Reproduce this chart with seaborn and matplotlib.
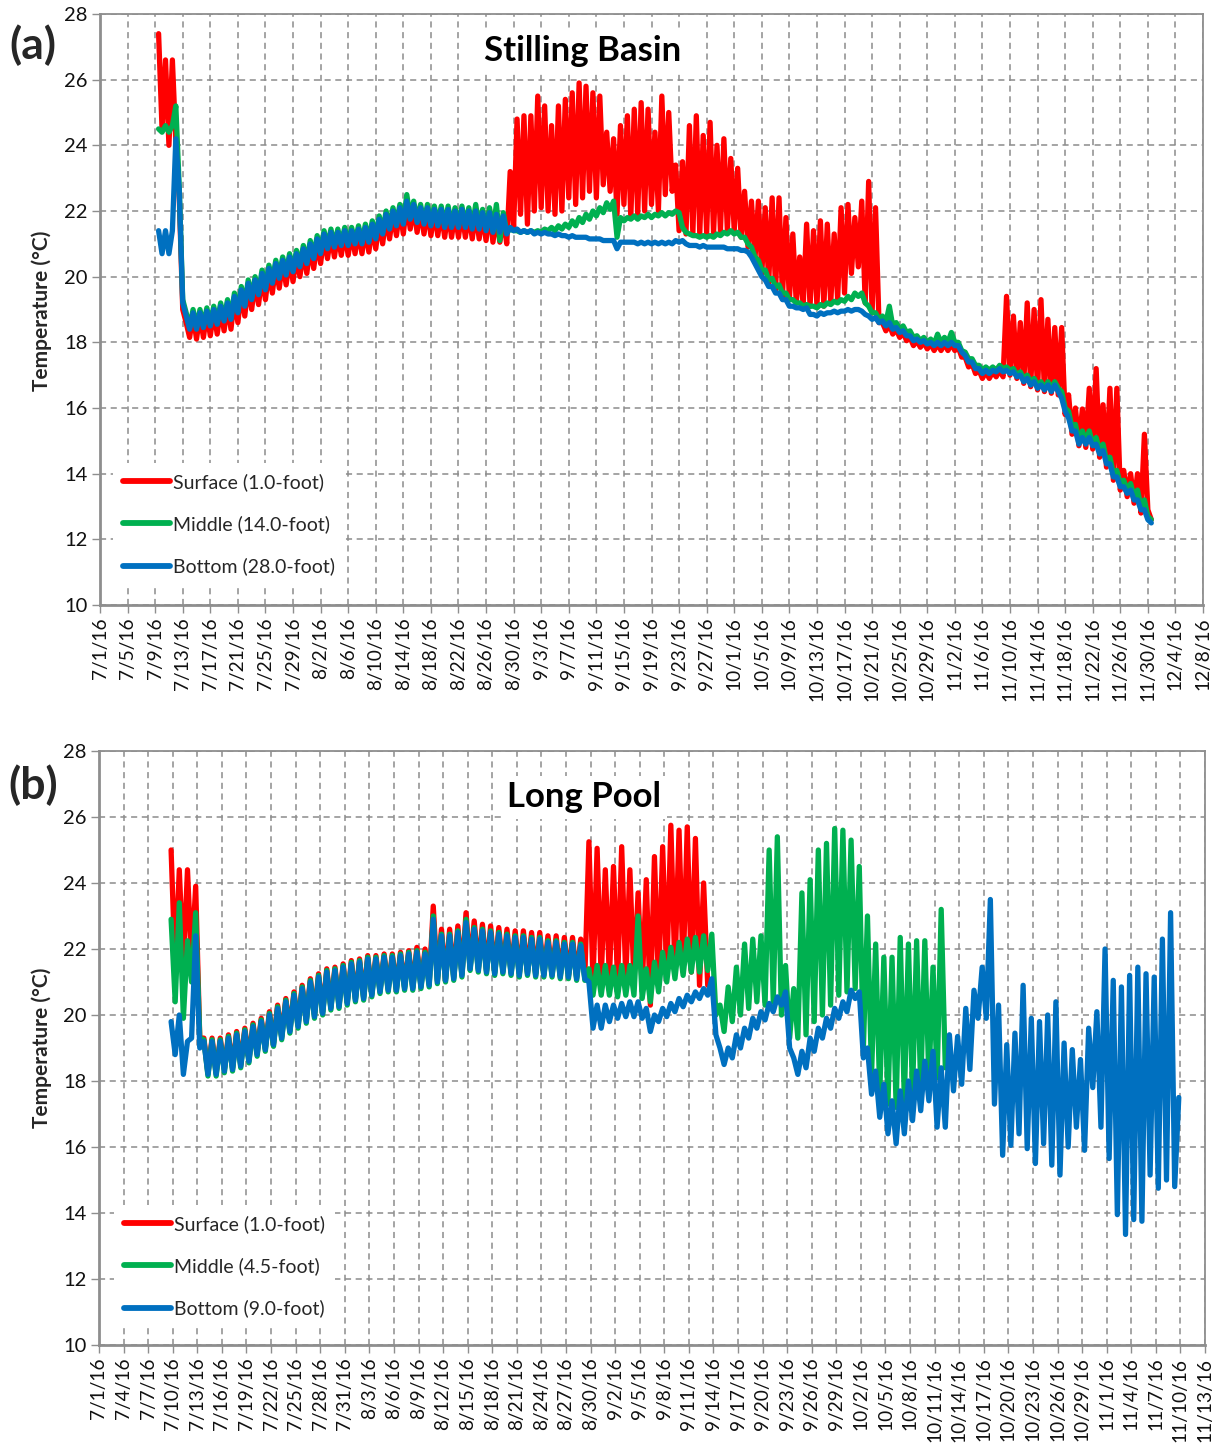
import datetime as dt
import numpy as np
import pandas as pd
import matplotlib
matplotlib.use("Agg")
import matplotlib.pyplot as plt
import seaborn as sns

# ---------------- DATA ----------------
# Values are half-day samples (alternating afternoon peak / morning trough),
# time measured in days after 7/1/16.
A_T0 = 8.5
a_surface = [
    27.4, 24.5, 26.6, 24.0, 26.6, 24.1, 22.4, 19.0, 18.6, 18.15,
    18.85, 18.1, 18.85, 18.15, 18.9, 18.2, 18.95, 18.25, 19.05, 18.35,
    19.15, 18.4, 19.35, 18.6, 19.55, 18.8, 19.75, 19.0, 19.85, 19.15,
    20.05, 19.3, 20.2, 19.5, 20.35, 19.65, 20.45, 19.75, 20.55, 19.85,
    20.65, 20.0, 20.8, 20.1, 20.95, 20.25, 21.1, 20.4, 21.25, 20.55,
    21.3, 20.6, 21.3, 20.65, 21.35, 20.65, 21.35, 20.7, 21.4, 20.7,
    21.45, 20.75, 21.55, 20.85, 21.7, 21.0, 21.85, 21.15, 21.95, 21.25,
    22.05, 21.3, 22.25, 21.45, 22.15, 21.35, 22.05, 21.3, 22.05, 21.25,
    22.0, 21.25, 22.0, 21.2, 22.0, 21.2, 21.95, 21.2, 22.0, 21.2,
    21.95, 21.15, 22.0, 21.15, 21.9, 21.1, 22.05, 21.05, 21.85, 21.05,
    21.8, 21.0,
    23.2, 21.5, 24.8, 21.9, 24.9, 21.6, 24.9, 22.0, 25.5, 22.1,
    25.2, 22.0, 24.6, 21.9, 25.2, 22.0, 25.4, 22.4, 25.6, 22.2,
    25.9, 22.4, 25.8, 22.6, 25.6, 22.4, 25.5, 22.8, 24.4, 22.6,
    24.2, 21.9, 24.6, 22.2, 24.9, 21.8, 25.1, 21.9, 25.3, 22.0,
    25.1, 22.2, 24.4, 22.0, 25.5, 22.5, 25.0, 22.6, 23.4, 21.4,
    23.5, 21.3, 24.6, 21.3, 24.9, 21.3, 24.3, 21.3, 24.7, 21.3,
    24.0, 21.4, 24.2, 21.4, 23.6, 21.4, 23.3, 21.2, 22.6, 20.9,
    22.3, 20.5, 22.3, 20.1, 22.1, 19.8, 22.4, 19.6, 22.4, 19.4,
    21.8, 19.3, 21.3, 19.2, 20.6, 19.1, 21.6, 19.1, 21.4, 19.1,
    21.7, 19.1, 21.6, 19.2, 21.3, 19.3, 22.1, 19.5, 22.2, 20.1,
    21.8, 20.3, 22.3, 19.2, 22.9, 18.9, 22.1, 18.6,
    18.6, 18.35, 18.55, 18.25, 18.4, 18.15, 18.3, 18.05, 18.15, 17.9,
    18.05, 17.85, 18.0, 17.8, 17.95, 17.75, 17.95, 17.75, 17.95, 17.75,
    17.95, 17.75, 17.85, 17.55, 17.55, 17.25, 17.35, 17.05, 17.15, 16.9,
    17.1, 16.9, 17.1, 16.95, 17.15, 16.95,
    19.4, 17.0, 18.8, 16.9, 18.6, 16.75, 19.2, 16.65, 19.0, 16.55,
    19.3, 16.5, 18.7, 16.45, 18.45, 16.4, 18.45, 15.8, 16.4, 15.2,
    16.0, 14.85, 15.97, 14.8, 16.6, 14.75, 17.2, 14.5, 16.1, 14.2,
    16.6, 13.8, 16.6, 13.5, 14.1, 13.3, 14.0, 13.1, 14.0, 12.8,
    15.2, 12.9, 12.6,
]
a_middle = [
    24.5, 24.4, 24.6, 24.4, 24.6, 25.2, 22.7, 19.3, 18.9, 18.45,
    19.0, 18.45, 19.0, 18.5, 19.05, 18.55, 19.1, 18.6, 19.2, 18.7,
    19.3, 18.75, 19.5, 18.95, 19.7, 19.15, 19.9, 19.35, 20.0, 19.5,
    20.2, 19.65, 20.35, 19.85, 20.5, 20.0, 20.6, 20.1, 20.7, 20.2,
    20.8, 20.35, 20.95, 20.45, 21.1, 20.6, 21.25, 20.75, 21.4, 20.9,
    21.45, 20.95, 21.45, 21.0, 21.5, 21.0, 21.5, 21.05, 21.55, 21.05,
    21.6, 21.1, 21.7, 21.2, 21.85, 21.35, 22.0, 21.5, 22.1, 21.6,
    22.2, 21.65, 22.5, 21.8, 22.3, 21.7, 22.2, 21.65, 22.2, 21.6,
    22.15, 21.6, 22.15, 21.55, 22.15, 21.55, 22.1, 21.55, 22.15, 21.55,
    22.1, 21.5, 22.2, 21.5, 22.05, 21.45, 22.1, 21.4, 22.2, 21.1,
    21.95, 21.35,
    21.45, 21.4, 21.4, 21.35, 21.4, 21.35, 21.4, 21.35, 21.4, 21.35,
    21.45, 21.4, 21.5, 21.4, 21.55, 21.45, 21.6, 21.5, 21.7, 21.55,
    21.8, 21.65, 21.9, 21.75, 22.0, 21.85, 22.1, 21.95, 22.25, 22.05,
    22.3, 21.2, 21.8, 21.7, 21.8, 21.75, 21.85, 21.75, 21.85, 21.8,
    21.9, 21.8, 21.9, 21.85, 21.95, 21.85, 21.95, 21.9, 22.0, 21.95,
    21.5, 21.35, 21.3, 21.25, 21.25, 21.2, 21.25, 21.2, 21.25, 21.2,
    21.3, 21.25, 21.35, 21.3, 21.4, 21.3, 21.35, 21.2, 21.2, 21.0,
    20.9, 20.6, 20.5, 20.2, 20.2, 19.9, 19.95, 19.7, 19.75, 19.5,
    19.5, 19.3, 19.3, 19.2, 19.2, 19.1, 19.15, 19.1, 19.1, 19.05,
    19.15, 19.1, 19.2, 19.15, 19.25, 19.2, 19.3, 19.25, 19.4, 19.3,
    19.5, 19.4, 19.5, 19.2, 19.1, 18.9, 18.9, 18.7, 18.8, 18.6,
    19.1, 18.5, 18.6, 18.4, 18.5, 18.3, 18.35, 18.15, 18.2, 18.05,
    18.15, 18.0, 18.1, 17.95, 18.25, 18.0, 18.15, 18.0, 18.3, 18.0,
    18.0, 17.75, 17.7, 17.5, 17.5, 17.3, 17.3, 17.15, 17.25, 17.15,
    17.25, 17.15, 17.3, 17.2, 17.25, 17.15, 17.2, 17.0, 17.1, 16.9,
    17.0, 16.8, 16.9, 16.7, 16.8, 16.6, 16.8, 16.6, 16.8, 16.6,
    16.5, 16.0, 15.9, 15.4, 15.5, 15.0, 15.3, 15.0, 15.3, 14.9,
    15.1, 14.7, 14.9, 14.4, 14.5, 14.0, 14.1, 13.7, 13.8, 13.5,
    13.7, 13.3, 13.5, 13.0, 13.2, 12.7, 12.6,
]
a_bottom = [
    21.4, 20.7, 21.4, 20.7, 21.4, 24.2, 22.6, 19.2, 18.8, 18.4,
    18.9, 18.4, 18.9, 18.45, 18.95, 18.5, 19.0, 18.55, 19.1, 18.65,
    19.2, 18.7, 19.4, 18.9, 19.6, 19.1, 19.8, 19.3, 19.9, 19.45,
    20.1, 19.6, 20.25, 19.8, 20.4, 19.95, 20.5, 20.05, 20.6, 20.15,
    20.7, 20.3, 20.85, 20.4, 21.0, 20.55, 21.15, 20.7, 21.3, 20.85,
    21.35, 20.9, 21.35, 20.95, 21.4, 20.95, 21.4, 21.0, 21.45, 21.0,
    21.5, 21.05, 21.6, 21.15, 21.75, 21.3, 21.9, 21.45, 22.0, 21.55,
    22.1, 21.6, 22.3, 21.75, 22.2, 21.65, 22.1, 21.6, 22.1, 21.55,
    22.05, 21.55, 22.05, 21.5, 22.05, 21.5, 22.0, 21.5, 22.05, 21.5,
    22.0, 21.45, 22.0, 21.45, 21.95, 21.4, 21.95, 21.35, 21.9, 21.35,
    21.85, 21.3,
    21.5, 21.4, 21.45, 21.35, 21.4, 21.35, 21.4, 21.3, 21.35, 21.3,
    21.35, 21.3, 21.3, 21.25, 21.3, 21.25, 21.25, 21.2, 21.25, 21.2,
    21.2, 21.2, 21.2, 21.15, 21.15, 21.15, 21.15, 21.1, 21.1, 21.1,
    21.1, 20.85, 21.05, 21.05, 21.05, 21.05, 21.05, 21.0, 21.05, 21.0,
    21.05, 21.0, 21.05, 21.0, 21.05, 21.0, 21.05, 21.0, 21.1, 21.05,
    21.1, 21.0, 20.95, 20.95, 20.95, 20.9, 20.95, 20.9, 20.9, 20.9,
    20.9, 20.9, 20.9, 20.85, 20.85, 20.85, 20.85, 20.8, 20.8, 20.75,
    20.6, 20.4, 20.2, 20.0, 19.9, 19.7, 19.7, 19.5, 19.5, 19.3,
    19.3, 19.1, 19.1, 19.05, 19.05, 19.0, 19.05, 18.85, 18.85, 18.8,
    18.9, 18.85, 18.9, 18.9, 18.95, 18.9, 18.95, 18.95, 19.0, 18.95,
    19.0, 19.0, 18.95, 18.85, 18.8, 18.7, 18.75, 18.6, 18.65, 18.5,
    18.6, 18.4, 18.45, 18.3, 18.35, 18.2, 18.2, 18.05, 18.1, 18.0,
    18.05, 17.95, 18.0, 17.9, 18.0, 17.9, 18.0, 17.9, 18.0, 17.9,
    17.9, 17.7, 17.6, 17.4, 17.4, 17.2, 17.2, 17.05, 17.15, 17.05,
    17.15, 17.1, 17.2, 17.1, 17.15, 17.05, 17.1, 16.95, 17.0, 16.8,
    16.9, 16.7, 16.8, 16.6, 16.7, 16.55, 16.7, 16.5, 16.7, 16.5,
    16.3, 15.9, 15.7, 15.3, 15.3, 14.9, 15.1, 14.9, 15.1, 14.85,
    14.9, 14.6, 14.7, 14.3, 14.3, 13.9, 13.9, 13.6, 13.6, 13.4,
    13.5, 13.2, 13.2, 12.9, 12.9, 12.6, 12.5,
]

B_T0 = 8.8
b_surface = [
    25.0, 21.4, 24.4, 21.5, 24.4, 21.6, 23.9, 19.3,
    19.3, 18.25, 19.3, 18.25, 19.3, 18.35, 19.4, 18.4, 19.5, 18.5,
    19.6, 18.65, 19.75, 18.85, 19.9, 19.0, 20.1, 19.15, 20.3, 19.35,
    20.5, 19.55, 20.7, 19.7, 20.9, 19.85, 21.1, 20.0, 21.25, 20.1,
    21.4, 20.25, 21.45, 20.3, 21.55, 20.4, 21.65, 20.5, 21.7, 20.55,
    21.8, 20.65, 21.8, 20.75, 21.85, 20.8, 21.85, 20.8, 21.9, 20.85,
    21.95, 20.85, 22.05, 20.9, 22.0, 20.95, 23.3, 21.05, 22.6, 21.1,
    22.6, 21.15, 22.7, 21.25, 23.1, 21.45, 22.85, 21.4, 22.75, 21.35,
    22.7, 21.3, 22.65, 21.35, 22.6, 21.3, 22.55, 21.25, 22.55, 21.3,
    22.5, 21.25, 22.5, 21.25, 22.4, 21.25, 22.4, 21.2, 22.35, 21.2,
    22.35, 21.15, 22.3, 21.15,
    25.25, 21.0, 25.05, 21.1, 24.4, 21.1, 24.5, 21.0, 25.1, 21.1,
    24.4, 21.0, 23.7, 20.8, 24.1, 20.3, 24.8, 20.9, 25.1, 21.2,
    25.75, 21.3, 25.6, 21.3, 25.7, 21.3, 25.35, 20.9, 24.0, 20.9,
]
b_middle = [
    22.9, 20.4, 23.4, 19.9, 22.25, 21.0, 23.1, 19.3,
    19.25, 18.15, 19.25, 18.15, 19.25, 18.25, 19.35, 18.3, 19.45, 18.4,
    19.55, 18.55, 19.7, 18.75, 19.85, 18.9, 20.05, 19.05, 20.25, 19.25,
    20.45, 19.45, 20.65, 19.6, 20.85, 19.75, 21.05, 19.9, 21.2, 20.0,
    21.35, 20.15, 21.4, 20.2, 21.5, 20.3, 21.6, 20.4, 21.65, 20.45,
    21.75, 20.55, 21.75, 20.65, 21.8, 20.7, 21.8, 20.7, 21.85, 20.75,
    21.9, 20.75, 21.95, 20.8, 21.9, 20.85, 23.0, 20.95, 22.45, 21.0,
    22.45, 21.05, 22.55, 21.15, 22.9, 21.35, 22.65, 21.3, 22.6, 21.25,
    22.55, 21.2, 22.5, 21.25, 22.45, 21.2, 22.4, 21.15, 22.4, 21.2,
    22.35, 21.15, 22.35, 21.15, 22.25, 21.15, 22.25, 21.1, 22.2, 21.1,
    22.2, 21.05, 22.15, 21.05,
    21.4, 20.6, 21.5, 20.6, 21.5, 20.6, 21.45, 20.55, 21.5, 20.6,
    21.5, 20.6, 23.0, 20.5, 21.4, 20.4, 21.6, 20.7, 21.9, 21.0,
    22.05, 21.1, 22.2, 21.2, 22.3, 21.3, 22.35, 21.3, 22.4, 21.35,
    22.45, 20.0, 20.3, 19.5, 20.85, 19.8, 21.45, 20.0, 22.15, 20.2,
    22.3, 20.4, 22.4, 20.3, 25.0, 20.4, 25.4, 20.0, 21.5, 19.3,
    20.8, 19.3, 23.7, 19.4, 24.1, 19.8, 25.0, 20.0, 25.2, 20.3,
    25.65, 20.6, 25.6, 20.7, 25.3, 20.8, 24.5, 19.0, 23.0, 18.2,
    22.15, 17.6, 21.75, 17.3, 21.75, 17.2, 22.35, 17.4, 22.15, 17.6,
    22.25, 17.8, 22.25, 18.0, 21.45, 18.1, 23.2, 18.4,
]
b_bottom = [
    19.8, 18.8, 20.0, 18.2, 19.2, 19.3, 22.4, 19.0,
    19.2, 18.2, 19.2, 18.2, 19.2, 18.3, 19.3, 18.35, 19.4, 18.45,
    19.5, 18.6, 19.65, 18.8, 19.8, 18.95, 20.0, 19.1, 20.2, 19.3,
    20.4, 19.5, 20.6, 19.65, 20.8, 19.8, 21.0, 19.95, 21.15, 20.05,
    21.3, 20.2, 21.35, 20.25, 21.45, 20.35, 21.55, 20.45, 21.6, 20.5,
    21.7, 20.6, 21.7, 20.7, 21.75, 20.75, 21.75, 20.75, 21.8, 20.8,
    21.85, 20.8, 21.9, 20.85, 21.85, 20.9, 22.9, 21.0, 22.4, 21.05,
    22.4, 21.1, 22.5, 21.2, 22.8, 21.4, 22.6, 21.35, 22.55, 21.3,
    22.5, 21.25, 22.45, 21.3, 22.4, 21.25, 22.35, 21.2, 22.35, 21.25,
    22.3, 21.2, 22.3, 21.2, 22.2, 21.2, 22.2, 21.15, 22.15, 21.15,
    22.15, 21.1, 22.1, 21.1,
    21.0, 19.6, 20.3, 19.6, 20.3, 19.8, 20.3, 19.9, 20.35, 19.95,
    20.4, 19.95, 20.4, 19.9, 20.2, 19.5, 20.0, 19.8, 20.2, 19.95,
    20.35, 20.1, 20.5, 20.25, 20.6, 20.4, 20.7, 20.5, 20.8, 20.6,
    21.1, 19.4, 19.0, 18.5, 19.0, 18.7, 19.4, 19.0, 19.6, 19.3,
    19.9, 19.6, 20.1, 19.85, 20.35, 20.1, 20.55, 20.3, 20.7, 19.0,
    18.7, 18.2, 18.9, 18.4, 19.3, 18.9, 19.6, 19.3, 19.9, 19.6,
    20.2, 19.9, 20.4, 20.1, 20.75, 20.5, 20.7, 18.7, 19.0, 17.6,
    18.3, 16.9, 17.9, 16.4, 17.4, 16.1, 17.7, 16.4, 18.0, 16.8,
    18.3, 17.1, 18.6, 17.4, 18.9, 16.6, 18.4, 16.6, 19.4, 17.7,
    19.35, 17.9, 20.2, 18.35, 20.75, 19.9, 21.45, 19.9, 23.5, 17.3,
    20.3, 15.75, 19.1, 16.05, 19.45, 16.4, 20.9, 15.95, 19.9, 15.5,
    19.8, 16.1, 20.0, 15.45, 20.4, 15.15, 19.15, 16.0, 18.95, 16.6,
    18.65, 15.9, 19.6, 17.8, 20.1, 16.6, 22.0, 15.65, 21.05, 13.95,
    20.85, 13.35, 21.2, 13.8, 21.45, 13.75, 21.25, 15.15, 21.15, 14.75,
    22.3, 15.0, 23.1, 14.8, 17.5,
]

a_tick_labels = ["7/1/16", "7/5/16", "7/9/16", "7/13/16", "7/17/16", "7/21/16", "7/25/16",
                 "7/29/16", "8/2/16", "8/6/16", "8/10/16", "8/14/16", "8/18/16", "8/22/16",
                 "8/26/16", "8/30/16", "9/3/16", "9/7/16", "9/11/16", "9/15/16", "9/19/16",
                 "9/23/16", "9/27/16", "10/1/16", "10/5/16", "10/9/16", "10/13/16", "10/17/16",
                 "10/21/16", "10/25/16", "10/29/16", "11/2/16", "11/6/16", "11/10/16",
                 "11/14/16", "11/18/16", "11/22/16", "11/26/16", "11/30/16", "12/4/16", "12/8/16"]
b_tick_labels = ["7/1/16", "7/4/16", "7/7/16", "7/10/16", "7/13/16", "7/16/16", "7/19/16",
                 "7/22/16", "7/25/16", "7/28/16", "7/31/16", "8/3/16", "8/6/16", "8/9/16",
                 "8/12/16", "8/15/16", "8/18/16", "8/21/16", "8/24/16", "8/27/16", "8/30/16",
                 "9/2/16", "9/5/16", "9/8/16", "9/11/16", "9/14/16", "9/17/16", "9/20/16",
                 "9/23/16", "9/26/16", "9/29/16", "10/2/16", "10/5/16", "10/8/16", "10/11/16",
                 "10/14/16", "10/17/16", "10/20/16", "10/23/16", "10/26/16", "10/29/16",
                 "11/1/16", "11/4/16", "11/7/16", "11/10/16", "11/13/16"]
y_ticks = [10, 12, 14, 16, 18, 20, 22, 24, 26, 28]

a_labels = ["Surface (1.0-foot)", "Middle (14.0-foot)", "Bottom (28.0-foot)"]
b_labels = ["Surface (1.0-foot)", "Middle (4.5-foot)", "Bottom (9.0-foot)"]
colors = ["#FF0000", "#00B050", "#0070C0"]

# ---------------- PLOT ----------------
sns.set_theme(style="white")
plt.rcParams["font.family"] = ["Lato", "DejaVu Sans"]

BASE = pd.Timestamp("2016-07-01")


def frame(t0, vals):
    t = t0 + 0.5 * np.arange(len(vals))
    return pd.DataFrame({"date": BASE + pd.to_timedelta(t, unit="D"), "temp": vals})


def parse(lbl):
    return pd.Timestamp(dt.datetime.strptime(lbl, "%m/%d/%y"))


W, H = 1223, 1444
fig = plt.figure(figsize=(W / 100, H / 100), dpi=100)
axA = fig.add_axes([100 / W, 1 - 605 / H, 1103 / W, 591 / H])
axB = fig.add_axes([99 / W, 1 - 1345 / H, 1106 / W, 594 / H])

GRID = "#8C8C8C"
SPINE = "#8E8E8E"


def draw(ax, t0, series, labels, ticklabels, title, title_xy, leg_anchor):
    for vals, lab, col in zip(series, labels, colors):
        sns.lineplot(data=frame(t0, vals), x="date", y="temp", ax=ax, color=col,
                     linewidth=3.8, estimator=None, sort=False, label=lab,
                     solid_joinstyle="round", solid_capstyle="round")
    ticks = [parse(l) for l in ticklabels]
    ax.set_xlim(ticks[0], ticks[-1])
    ax.set_ylim(10, 28)
    ax.set_xticks(ticks)
    ax.set_xticklabels(ticklabels, rotation=90, fontsize=13.8, color="#111111")
    ax.set_yticks(y_ticks)
    ax.set_yticklabels([str(v) for v in y_ticks], fontsize=14.5, color="#111111")
    ax.set_xlabel("")
    ax.set_ylabel("")
    ax.set_axisbelow(True)
    ax.grid(True, color=GRID, linestyle=(0, (4, 3)), linewidth=1.1)
    for s in ax.spines.values():
        s.set_visible(True)
        s.set_color(SPINE)
        s.set_linewidth(1.3)
    ax.spines["left"].set_linewidth(2.0)
    ax.spines["bottom"].set_linewidth(2.0)
    ax.tick_params(axis="both", which="major", direction="out", length=6,
                   width=1.0, color=SPINE, left=True, bottom=True, pad=3)
    ax.text(title_xy[0], title_xy[1], title, transform=ax.transAxes, ha="center",
            va="center", fontsize=25, fontweight="bold", color="black", zorder=6,
            bbox=dict(facecolor="white", edgecolor="none", pad=4))
    leg = ax.legend(loc="upper left", bbox_to_anchor=leg_anchor, fontsize=14,
                    frameon=True, fancybox=False, facecolor="white", edgecolor="none",
                    framealpha=1.0, handlelength=2.4, handletextpad=0.15,
                    labelspacing=1.25, borderpad=0.5, borderaxespad=0.0)
    for h in leg.get_lines():
        h.set_linewidth(4.2)


draw(axA, A_T0, [a_surface, a_middle, a_bottom], a_labels, a_tick_labels,
     "Stilling Basin", (0.438, 0.938), (0.012, 0.2395))
draw(axB, B_T0, [b_surface, b_middle, b_bottom], b_labels, b_tick_labels,
     "Long Pool", (0.4385, 0.922), (0.014, 0.235))

fig.text(33 / W, 1 - 45 / H, "(a)", fontsize=32, fontweight="bold", ha="center", va="center")
fig.text(33 / W, 1 - 785 / H, "(b)", fontsize=32, fontweight="bold", ha="center", va="center")
fig.text(42 / W, 1 - 311 / H, "Temperature (°C)", fontsize=15, fontweight="bold",
         rotation=90, ha="center", va="center")
fig.text(42 / W, 1 - 1048 / H, "Temperature (°C)", fontsize=15, fontweight="bold",
         rotation=90, ha="center", va="center")

fig.savefig("out.png", dpi=100, facecolor="white")
